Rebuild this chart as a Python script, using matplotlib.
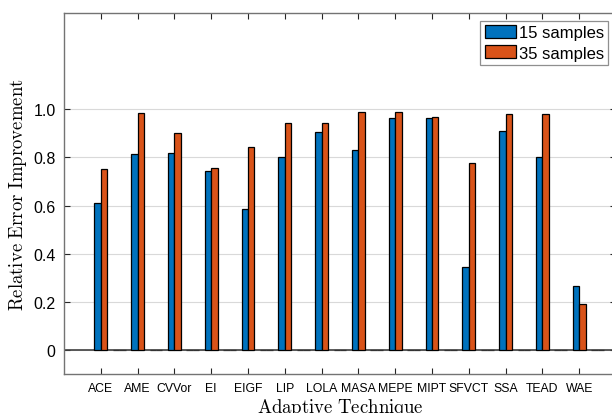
import numpy as np
import matplotlib
matplotlib.use('Agg')
import matplotlib.pyplot as plt

# data
techniques = ['ACE', 'AME', 'CVVor', 'EI', 'EIGF', 'LIP', 'LOLA', 'MASA',
              'MEPE', 'MIPT', 'SFVCT', 'SSA', 'TEAD', 'WAE']
samples_15 = [0.61, 0.815, 0.82, 0.745, 0.585, 0.80, 0.905, 0.83,
              0.965, 0.965, 0.345, 0.91, 0.80, 0.265]
samples_35 = [0.75, 0.985, 0.90, 0.755, 0.845, 0.945, 0.945, 0.99,
              0.99, 0.97, 0.775, 0.98, 0.98, 0.19]
yticks = [0, 0.2, 0.4, 0.6, 0.8, 1.0]
ytick_labels = ['0', '0.2', '0.4', '0.6', '0.8', '1.0']

plt.rcParams['font.family'] = ['Liberation Sans', 'DejaVu Sans']
plt.rcParams['mathtext.fontset'] = 'cm'

blue = '#0072BD'
orange = '#D95319'

fig = plt.figure(figsize=(6.12, 4.14), dpi=100)
# right edge of the axes sits just past the figure, as in the reference
ax = fig.add_axes([0.1046, 0.0942, 0.9020, 0.8718])

x = np.arange(1, len(techniques) + 1)
w = 0.175
ax.axhline(0, color='0.25', lw=1.2, zorder=1)
ax.bar(x - w / 2, samples_15, w, color=blue, edgecolor='black', lw=0.9,
       label='15 samples', zorder=3)
ax.bar(x + w / 2, samples_35, w, color=orange, edgecolor='black', lw=0.9,
       label='35 samples', zorder=3)
# empty slots in between the groups (zero height)
gaps = x + 0.5
ax.bar(gaps - w / 2, np.zeros(len(gaps)), w, color=blue, edgecolor='0.2',
       lw=0.9, zorder=2)
ax.bar(gaps + w / 2, np.zeros(len(gaps)), w, color=orange, edgecolor='0.2',
       lw=0.9, zorder=2)

ax.set_xlim(0, 15)
ax.set_ylim(-0.1, 1.4)
ax.set_xticks(x)
ax.set_xticklabels(techniques, fontsize=8.8)
ax.set_yticks(yticks)
ax.set_yticklabels(ytick_labels, fontsize=11.5)
ax.yaxis.grid(True, color='0.85', lw=0.8)
ax.set_axisbelow(True)
ax.tick_params(direction='in', top=True, right=True, length=4, width=0.8,
               color='0.15', pad=6)
for s in ax.spines.values():
    s.set_color('0.45')
    s.set_linewidth(1.0)

ax.set_ylabel(r'$\mathrm{Relative\ Error\ Improvement}$', fontsize=13.5,
              labelpad=3)
ax.set_xlabel(r'$\mathrm{Adaptive\ Technique}$', fontsize=13.5, labelpad=1)

leg = ax.legend(loc='upper right', bbox_to_anchor=(608 / 612, 1 - 22 / 414),
                bbox_transform=fig.transFigure, borderaxespad=0,
                fontsize=12, frameon=True, fancybox=False,
                borderpad=0.25, handlelength=1.9, handleheight=0.8,
                handletextpad=0.15, labelspacing=0.3)
leg.get_frame().set_edgecolor('0.45')
leg.get_frame().set_linewidth(0.9)

fig.savefig('out.png', dpi=100)
